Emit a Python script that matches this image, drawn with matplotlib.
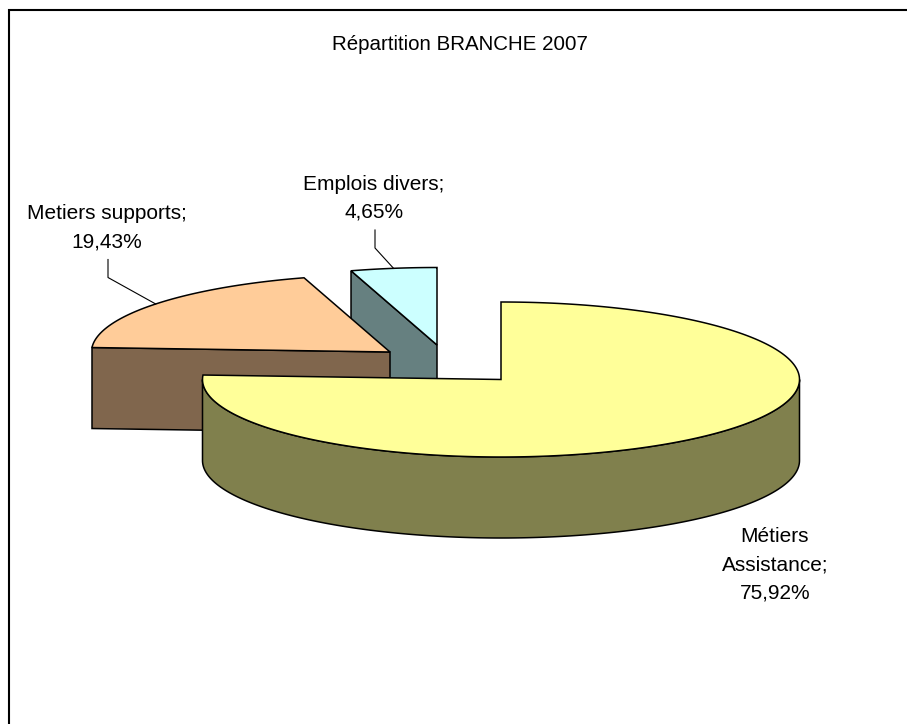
import numpy as np
import matplotlib
matplotlib.use('Agg')
import matplotlib.pyplot as plt
from matplotlib.patches import Polygon

plt.rcParams['font.family'] = ['Liberation Sans', 'DejaVu Sans']

# chart data
categories = ['Métiers\nAssistance', 'Metiers supports', 'Emplois divers']
shares = [75.92, 19.43, 4.65]
top_colors = ['#FFFF99', '#FFCC99', '#CCFFFF']
side_colors = ['#80804D', '#80664D', '#668080']
label_pos = [(775, 565), (107, 227.5), (374, 198)]
leader_x = [None, 108, 375]

# 3D pie layout, pixels
apex = [(501, 379.5), (390, 352), (437, 345)]
rx, ry = 298.5, 77.5
depth = 81


def rim(cx, cy, a0, a1):
    # angles clockwise from 12 o'clock, in degrees
    t = np.radians(np.linspace(a0, a1, 300))
    return np.column_stack([cx + rx * np.sin(t), cy - ry * np.cos(t)])


def down(pts):
    return pts + [0, depth]


fig = plt.figure(figsize=(9.07, 7.24), dpi=100)
ax = fig.add_axes([0, 0, 1, 1])
ax.set_xlim(0, 907)
ax.set_ylim(724, 0)
ax.axis('off')

bounds = np.concatenate([[0], np.cumsum(shares) * 3.6])

# back slices first, the big one has to sit on top
for i in [2, 1, 0]:
    cx, cy = apex[i]
    a0, a1 = bounds[i], bounds[i + 1]
    arc = rim(cx, cy, a0, a1)
    ec = dict(edgecolor='black', linewidth=1.1, joinstyle='miter')
    if i == 0:
        # only the front half of the rim shows
        front = rim(cx, cy, 90, min(a1, 270))
        wall = np.vstack([front, down(front)[::-1]])
        ax.add_patch(Polygon(wall, closed=True, facecolor=side_colors[i], **ec))
    else:
        # cut face from the rim to the centre
        start = arc[0]
        cut = np.array([start, [cx, cy], [cx, cy + depth], start + [0, depth]])
        ax.add_patch(Polygon(cut, closed=True, facecolor=side_colors[i], **ec))
    ax.add_patch(Polygon(np.vstack([[cx, cy], arc]), closed=True, facecolor=top_colors[i], **ec))

    # leader lines
    if i > 0:
        mid = rim(cx, cy, (a0 + a1) / 2, (a0 + a1) / 2)[0]
        ly = label_pos[i][1] + 32
        ax.plot([leader_x[i], leader_x[i], mid[0]], [ly, ly + 18, mid[1]], color='black', lw=0.8)

for name, val, pos in zip(categories, shares, label_pos):
    txt = f"{name};\n{val:.2f}%".replace('.', ',')
    ax.text(pos[0], pos[1], txt, ha='center', va='center', fontsize=15,
            color='black', linespacing=1.6)

ax.text(459.5, 50, 'Répartition BRANCHE 2007', ha='center', va='baseline', fontsize=14.8, color='black')

# frame: only top and left show
ax.plot([907, 8.5, 8.5], [9.5, 9.5, 724], color='black', lw=1.5, clip_on=False,
        solid_joinstyle='miter')

fig.savefig('out.png', dpi=100)
